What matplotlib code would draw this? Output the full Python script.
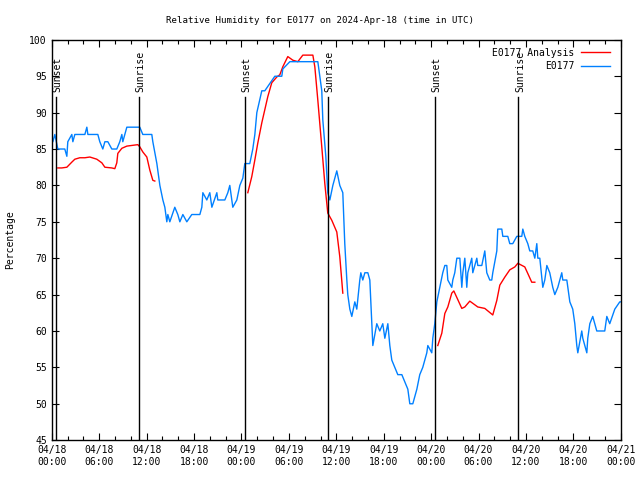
"""Relative humidity for station E0177, observed vs analysis, 2024-04-18 to 04-21."""
from datetime import datetime, timedelta
import matplotlib
matplotlib.use("Agg")
import matplotlib.pyplot as plt
import matplotlib.dates as mdates

START = datetime(2024, 4, 18)

# observed E0177 (hours since 04/18 00:00 UTC, %)
obs_hours = [0.0, 0.13, 0.38, 0.76, 1.64, 1.9, 2.02, 2.53, 2.66, 2.91, 4.18, 4.43, 4.56,
             5.82, 6.07, 6.45, 6.71, 7.09, 7.59, 7.97, 8.22, 8.6, 8.86, 8.98, 9.49, 11.13,
             11.51, 12.65, 12.78, 13.29, 13.67, 14.05, 14.3, 14.55, 14.68, 14.93, 15.56,
             15.94, 16.2, 16.58, 17.08, 17.71, 18.73, 18.98, 19.11, 19.61, 19.99, 20.25,
             20.88, 21.0, 21.89, 22.27, 22.52, 22.9, 23.41, 23.79, 24.17, 24.42, 25.05,
             25.43, 25.69, 25.94, 26.57, 26.95, 27.58, 28.22, 29.1, 29.23, 30.12, 33.66,
             34.16, 34.29, 34.67, 34.92, 35.18, 35.56, 36.06, 36.44, 36.82, 37.07, 37.33,
             37.45, 37.71, 37.96, 38.34, 38.59, 38.97, 39.1, 39.35, 39.61, 39.99, 40.24,
             40.49, 40.62, 41.12, 41.5, 41.88, 42.14, 42.52, 42.77, 43.02, 43.4, 43.78,
             44.29, 44.67, 45.05, 45.3, 45.68, 46.19, 46.56, 46.94, 47.45, 47.58, 48.08,
             48.21, 48.46, 48.72, 49.1, 49.47, 49.73, 49.98, 50.11, 50.61, 50.74, 50.99,
             51.25, 51.63, 51.88, 52.01, 52.26, 52.51, 52.64, 53.14, 53.27, 53.78, 53.9,
             54.41, 54.79, 55.04, 55.42, 55.67, 55.8, 56.31, 56.43, 56.94, 57.07, 57.7,
             57.95, 58.33, 58.84, 59.47, 59.6, 59.85, 60.23, 60.48, 60.86, 61.12, 61.37,
             61.5, 61.75, 62.13, 62.38, 62.64, 63.01, 63.39, 63.65, 64.03, 64.53, 64.66,
             65.17, 65.55, 65.92, 66.18, 66.43, 66.56, 67.06, 67.19, 67.44, 67.7, 67.82,
             68.08, 68.45, 68.96, 69.97, 70.23, 70.6, 71.24, 71.87, 72.0]
obs_rh = [86, 86, 87, 85, 85, 84, 86, 87, 86, 87, 87, 88, 87,
          87, 86, 85, 86, 86, 85, 85, 85, 86, 87, 86, 88, 88,
          87, 87, 86, 83, 80, 78, 77, 75, 76, 75, 77,
          76, 75, 76, 75, 76, 76, 77, 79, 78, 79, 77,
          79, 78, 78, 79, 80, 77, 78, 80, 81, 83, 83,
          85, 87, 90, 93, 93, 94, 95, 95, 96, 97, 97,
          93, 89, 84, 79, 78, 80, 82, 80, 79, 72, 67,
          65, 63, 62, 64, 63, 67, 68, 67, 68, 68, 67,
          61, 58, 61, 60, 61, 59, 61, 58, 56, 55, 54,
          54, 53, 52, 50, 50, 52, 54, 55, 57, 58, 57,
          59, 61, 64, 66, 68, 69, 69, 67, 66, 67, 68,
          70, 70, 66, 68, 70, 66, 68, 70, 68, 70, 69,
          69, 71, 68, 67, 67, 68, 71, 74, 74, 73, 73,
          72, 72, 73, 73, 74, 73, 72, 71, 71, 70, 72,
          70, 70, 66, 67, 69, 68, 66, 65, 66, 68, 67,
          67, 64, 63, 61, 58, 57, 60, 59, 58, 57, 59,
          61, 62, 60, 60, 62, 61, 63, 64, 64]

# analysis, three separate segments
ana_hours = [
    [0.76, 1.26, 1.9, 2.53, 2.91, 3.54, 4.18, 4.81, 5.69, 6.33, 6.71, 7.59, 7.97, 8.22,
     8.35, 8.86, 9.49, 10.88, 11.13, 11.51, 12.02, 12.4, 12.78, 13.03],
    [24.8, 25.3, 25.69, 26.06, 26.57, 26.95, 27.33, 27.83, 28.47, 28.85, 29.23, 29.86,
     30.5, 31.13, 31.76, 33.03, 33.28, 33.66, 34.16, 34.54, 34.92, 35.43, 36.06, 36.44,
     36.82],
    [48.84, 49.35, 49.73, 50.11, 50.61, 50.87, 51.25, 51.88, 52.26, 52.89, 53.27, 53.9,
     54.79, 55.8, 56.31, 56.69, 57.32, 57.95, 58.59, 58.97, 59.85, 60.23, 60.73, 61.12],
]
ana_rh = [
    [82.4, 82.4, 82.5, 83.2, 83.6, 83.8, 83.8, 83.9, 83.6, 83.1, 82.5, 82.4, 82.3, 83.1,
     84.4, 85.1, 85.4, 85.6, 85.3, 84.6, 83.9, 82.1, 80.7, 80.6],
    [79.0, 81.2, 83.5, 85.8, 88.6, 90.4, 92.2, 94.1, 94.9, 95.2, 96.3, 97.7,
     97.2, 97.0, 97.9, 97.9, 96.3, 91.7, 85.3, 80.3, 76.2, 75.2, 73.6, 70.2, 65.2],
    [58.0, 59.7, 62.4, 63.3, 65.2, 65.5, 64.6, 63.1, 63.3, 64.1, 63.8, 63.3,
     63.1, 62.2, 64.2, 66.3, 67.4, 68.4, 68.8, 69.3, 68.8, 67.9, 66.7, 66.7],
]

# sun events (hours since start)
event_hours = [0.47, 11.05, 24.42, 34.97, 48.5, 59.05]
event_names = ["Sunset", "Sunrise", "Sunset", "Sunrise", "Sunset", "Sunrise"]

MONO = "DejaVu Sans Mono"


def to_dt(hours):
    return [START + timedelta(hours=h) for h in hours]


fig = plt.figure(figsize=(6.4, 4.8), dpi=100)
ax = fig.add_axes([0.081, 0.083, 0.889, 0.834])

for i, (hh, vv) in enumerate(zip(ana_hours, ana_rh)):
    ax.plot(to_dt(hh), vv, color="#ff0000", lw=1.0,
            label="E0177 Analysis" if i == 0 else None)
ax.plot(to_dt(obs_hours), obs_rh, color="#0080ff", lw=1.0, label="E0177")

for h, name in zip(event_hours, event_names):
    t = START + timedelta(hours=h)
    ax.plot([t, t], [45, 92.1], color="black", lw=1.0)
    # gnuplot puts the label a touch right of the line
    ax.text(t + timedelta(hours=0.2), 92.9, name, rotation=90, ha="center",
            va="bottom", fontsize=7, family=MONO)

ax.set_xlim(START, START + timedelta(hours=72))
ax.set_ylim(45, 100)
ax.set_yticks(range(45, 101, 5))
ax.xaxis.set_major_locator(mdates.HourLocator(byhour=[0, 6, 12, 18]))
ax.xaxis.set_minor_locator(mdates.HourLocator(byhour=range(0, 24, 2)))
ax.xaxis.set_major_formatter(mdates.DateFormatter("%m/%d\n%H:%M"))

ax.tick_params(which="both", direction="in", top=True, right=True,
               labelsize=7, width=0.8)
ax.tick_params(which="major", length=5)
ax.tick_params(which="minor", length=3)
for lab in ax.get_xticklabels() + ax.get_yticklabels():
    lab.set_family(MONO)
for s in ax.spines.values():
    s.set_linewidth(1.0)

ax.set_ylabel("Percentage", fontsize=7, family=MONO, labelpad=10)
fig.text(0.5, 0.958, "Relative Humidity for E0177 on 2024-Apr-18 (time in UTC)",
         ha="center", va="center", fontsize=6.6, family=MONO)

leg = ax.legend(loc="upper right", frameon=False, markerfirst=False,
                prop={"family": MONO, "size": 7}, handlelength=3.0,
                labelspacing=0.35, borderaxespad=0.0, handletextpad=0.7,
                bbox_to_anchor=(0.988, 0.99))
for t in leg.get_texts():
    t.set_ha("right")

fig.savefig("out.png", dpi=100)
